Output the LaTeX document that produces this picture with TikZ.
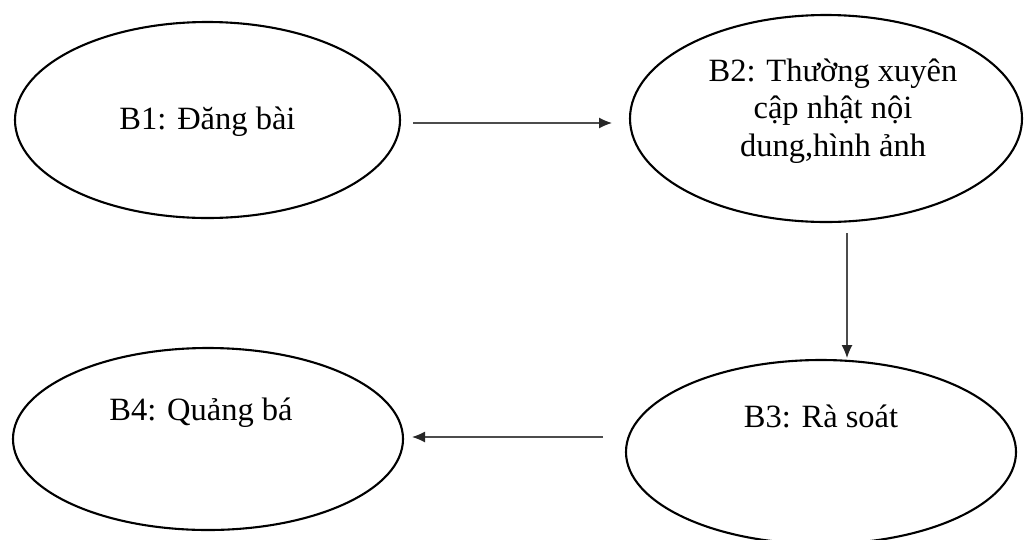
\documentclass[tikz,border=0pt]{standalone}
\usepackage{fontspec}
\setmainfont{Liberation Serif}
\usetikzlibrary{shapes.geometric,arrows.meta}
\begin{document}
\begin{tikzpicture}[x=1pt,y=-1pt,
  oval/.style={ellipse,draw=black,line width=2.1pt,inner sep=0pt},
  lbl/.style={font=\fontsize{32.5}{37.5}\selectfont,align=center,inner sep=0pt},
  arr/.style={draw=black!70,line width=1.2pt,-{Latex[length=13pt,width=11pt,color=black!85]}}]
\useasboundingbox (0,0) rectangle (1024,539);
\node[oval,minimum width=385pt,minimum height=196pt] (b1) at (207.5,120) {};
\node[lbl] (t1) at (207.5,122) {B1: Đăng bài};
\node[oval,minimum width=392pt,minimum height=207pt] (b2) at (826,118.5) {};
\node[lbl] (t2) at (833,111) {B2: Thường xuyên\\cập nhật nội\\dung,hình ảnh};
\node[oval,minimum width=390pt,minimum height=184pt] (b3) at (821,452) {};
\node[lbl] (t3) at (821,416) {B3: Rà soát};
\node[oval,minimum width=390pt,minimum height=182pt] (b4) at (208,439) {};
\node[lbl] (t4) at (201,413) {B4: Quảng bá};
\coordinate (a1s) at (413,123);
\coordinate (a1e) at (612,123);
\coordinate (a2s) at (847,233);
\coordinate (a2e) at (847,358);
\coordinate (a3s) at (603,437);
\coordinate (a3e) at (412,437);
\draw[arr] (a1s) -- (a1e);
\draw[arr] (a2s) -- (a2e);
\draw[arr] (a3s) -- (a3e);
\end{tikzpicture}
\end{document}
